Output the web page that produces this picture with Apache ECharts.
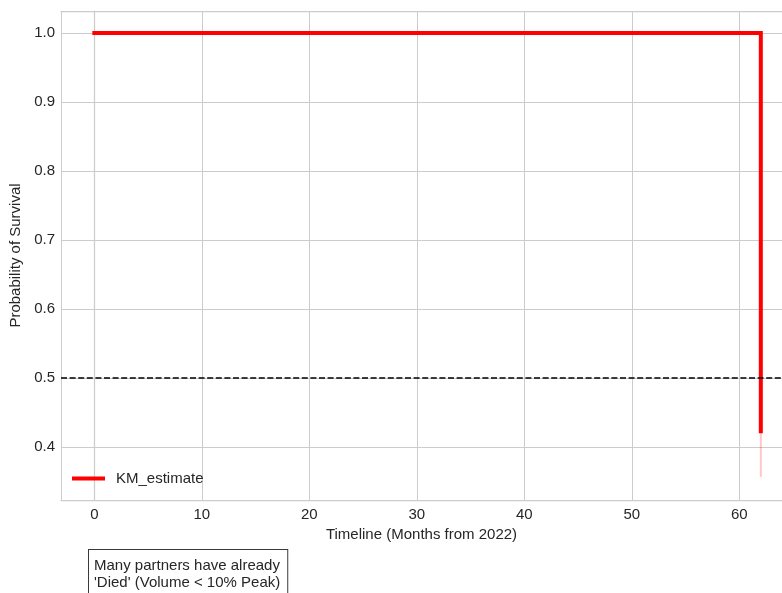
<!DOCTYPE html>
<html>
<head>
<meta charset="utf-8">
<script src="https://cdn.jsdelivr.net/npm/echarts@6/dist/echarts.min.js"></script>
<style>
  html, body { margin: 0; padding: 0; background: #fff; }
  #chart { width: 782px; height: 593px; }
</style>
</head>
<body>
<div id="chart"></div>
<script>
// Kaplan-Meier survival estimate of partner volume
const kmTimeline = [0, 62, 62];          // months from 2022
const kmSurvival = [1.0, 1.0, 0.423];    // survival probability (step)
const ciTimeline = [62, 62];
const ciBounds = [0.357, 0.49];          // confidence interval at final drop
const medianLevel = 0.5;
const xRange = [-3.1, 63.97];
const yRange = [0.3235, 1.032];
const noteText = "Many partners have already\n'Died' (Volume < 10% Peak)";

const FONT = "'Liberation Sans', Arial, sans-serif";
const TXT = '#262626';
const GRID = '#cccccc';

const kmData = kmTimeline.map((t, i) => [t, kmSurvival[i]]);
const ciData = ciTimeline.map((t, i) => [t, ciBounds[i]]);

const chart = echarts.init(document.getElementById('chart'), null, { renderer: 'canvas' });

const frameLine = { show: true, lineStyle: { color: GRID, width: 1.25 } };

chart.setOption({
  animation: false,
  backgroundColor: '#ffffff',
  textStyle: { fontFamily: FONT },
  grid: { left: 61, top: 11, bottom: 93, right: 0, show: false },
  legend: {
    left: 72, top: 471, padding: 0,
    itemWidth: 33, itemHeight: 4,
    data: [{ name: 'KM_estimate', icon: 'rect' }],
    textStyle: { fontFamily: FONT, fontSize: 15, color: TXT, padding: [0, 0, 0, 6] }
  },
  xAxis: [
    {
      type: 'value', position: 'bottom', min: xRange[0], max: xRange[1], splitNumber: 7,
      name: 'Timeline (Months from 2022)', nameLocation: 'middle', nameGap: 23,
      nameTextStyle: { fontFamily: FONT, fontSize: 15, color: TXT },
      axisLine: frameLine, axisTick: { show: false },
      axisLabel: { showMinLabel: false, showMaxLabel: false, fontFamily: FONT, fontSize: 15, color: TXT, margin: 7 },
      splitLine: { show: true, lineStyle: { color: GRID, width: 1 } }
    },
    {
      // top edge of the frame
      type: 'value', position: 'top', min: xRange[0], max: xRange[1],
      axisLine: frameLine, axisTick: { show: false }, axisLabel: { show: false },
      splitLine: { show: false }
    }
  ],
  yAxis: {
    type: 'value', min: yRange[0], max: yRange[1], splitNumber: 7,
    name: 'Probability of Survival', nameLocation: 'middle', nameGap: 29,
    nameTextStyle: { fontFamily: FONT, fontSize: 15, color: TXT },
    axisLine: frameLine, axisTick: { show: false },
    axisLabel: {
      showMinLabel: false, showMaxLabel: false, fontFamily: FONT, fontSize: 15, color: TXT, margin: 6,
      formatter: v => v.toFixed(1)
    },
    splitLine: { show: true, lineStyle: { color: GRID, width: 1 } }
  },
  series: [
    {
      name: 'KM_CI', type: 'line', data: ciData, symbol: 'none', z: 2, silent: true,
      lineStyle: { color: 'rgba(255,0,0,0.22)', width: 2 }
    },
    {
      name: 'KM_estimate', type: 'line', data: kmData, symbol: 'none', z: 3,
      itemStyle: { color: '#ff0000' },
      lineStyle: { color: '#ff0000', width: 4, cap: 'square', join: 'miter' },
      markLine: {
        silent: true, symbol: 'none', label: { show: false },
        lineStyle: { color: '#000000', width: 1.5, type: [6, 2.6] },
        data: [{ yAxis: medianLevel }]
      }
    }
  ],
  graphic: [
    {
      type: 'text', left: 88, top: 549, z: 10,
      style: {
        text: noteText, font: '15px ' + FONT, fill: TXT, lineHeight: 17,
        backgroundColor: '#ffffff', borderColor: '#3a3a3a', borderWidth: 1,
        padding: [7, 7, 6, 5]
      }
    }
  ]
});
</script>
</body>
</html>
